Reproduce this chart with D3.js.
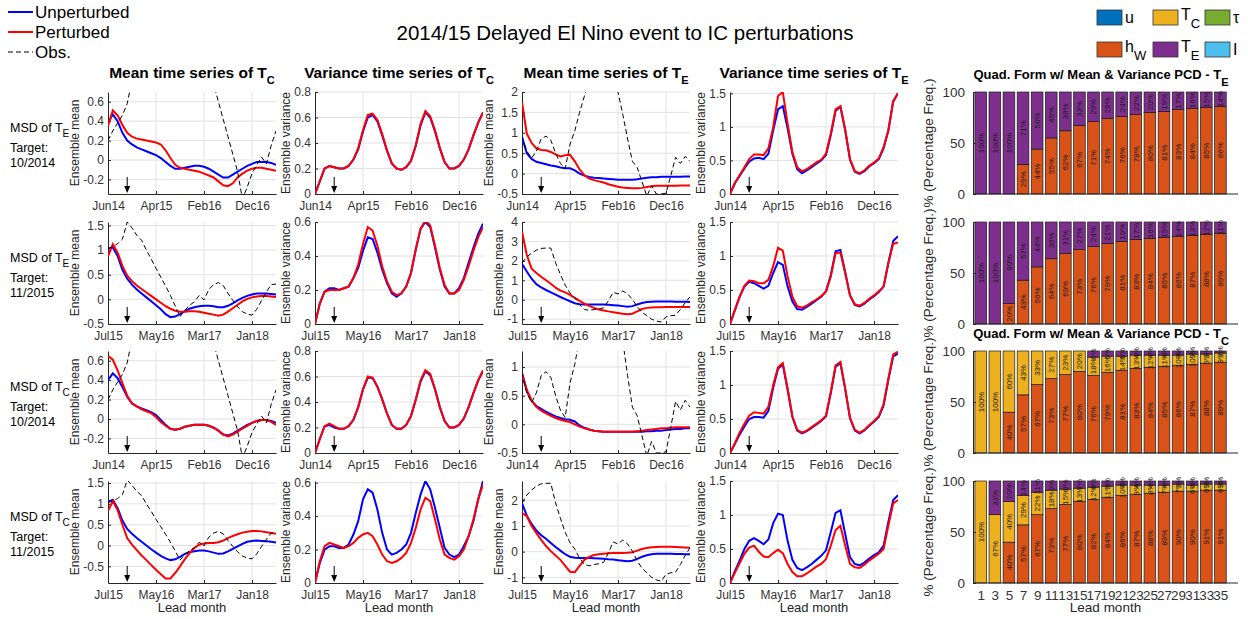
<!DOCTYPE html>
<html><head><meta charset="utf-8">
<script src="https://cdn.jsdelivr.net/npm/d3@7"></script>
<style>
body{margin:0;background:#fff}
svg{display:block}
text{font-family:"Liberation Sans",Arial,Helvetica,sans-serif}
</style>
</head><body>
<svg id="chart" width="1248" height="619"></svg>
<script>
// ---------------- DATA ----------------
const months = d3.range(36); // lead month index 0..35
const tickMonths = [0, 10, 20, 30];
const ticksJun14 = ["Jun14", "Apr15", "Feb16", "Dec16"];
const ticksJul15 = ["Jul15", "May16", "Mar17", "Jan18"];
const arrowMonth = 4;

// Observations
const obsTC_Jun14 = [0.2,0.3,0.38,0.46,0.58,0.82,1.0,1.1,1.0,0.9,0.8,1.0,1.3,1.6,1.9,2.2,2.5,2.6,2.4,2.0,1.5,1.1,0.78,0.6,0.42,0.24,0.06,-0.12,-0.4,-0.28,-0.14,-0.05,0.03,-0.04,0.15,0.3];
const obsTE_Jun14 = [0.9,0.55,0.38,0.55,0.85,0.92,0.82,0.5,0.25,0.12,0.72,1.05,1.5,1.9,2.3,2.6,2.8,2.9,2.7,2.4,2.0,1.45,0.85,0.3,0.15,-0.2,-0.55,-0.3,-0.5,-0.5,-0.48,-0.05,0.4,0.25,0.42,0.3];
const obsTC_Jul15 = [1.03,1.07,1.13,1.22,1.57,1.45,1.3,1.2,1.0,0.82,0.63,0.45,0.27,0.08,-0.13,-0.35,-0.22,-0.12,-0.05,0.08,-0.01,0.2,0.3,0.34,0.28,0.12,-0.02,-0.15,-0.25,-0.3,-0.32,-0.2,-0.02,0.15,0.3,0.31];
const obsTE_Jul15 = [1.9,2.2,2.4,2.55,2.64,2.66,2.66,1.9,1.3,0.75,0.35,0.1,-0.25,-0.5,-0.55,-0.5,-0.47,-0.42,-0.05,0.38,0.3,0.45,0.3,0.02,-0.35,-0.65,-0.82,-1.0,-1.1,-1.15,-0.88,-0.82,-0.8,-0.5,-0.15,0.15];

// Row 1: MSD of T_E, target 10/2014
const r1MeanTC_unp = [0.38,0.47,0.4,0.28,0.2,0.16,0.13,0.11,0.09,0.07,0.05,0.02,-0.02,-0.06,-0.09,-0.09,-0.08,-0.07,-0.06,-0.06,-0.07,-0.09,-0.12,-0.15,-0.18,-0.18,-0.15,-0.12,-0.09,-0.06,-0.04,-0.02,-0.02,-0.02,-0.03,-0.05];
const r1MeanTC_per = [0.35,0.51,0.46,0.36,0.28,0.24,0.22,0.21,0.2,0.19,0.18,0.16,0.1,0.02,-0.05,-0.08,-0.09,-0.1,-0.11,-0.12,-0.14,-0.16,-0.18,-0.22,-0.26,-0.27,-0.24,-0.18,-0.14,-0.11,-0.09,-0.08,-0.08,-0.09,-0.1,-0.11];
const r1VarTC_unp = [0,0.1,0.2,0.22,0.21,0.2,0.2,0.22,0.27,0.35,0.49,0.6,0.62,0.57,0.46,0.34,0.24,0.2,0.19,0.21,0.26,0.38,0.54,0.64,0.6,0.49,0.36,0.25,0.2,0.2,0.22,0.27,0.35,0.46,0.56,0.64];
const r1VarTC_per = [0,0.1,0.2,0.22,0.21,0.2,0.2,0.22,0.27,0.36,0.5,0.62,0.63,0.58,0.47,0.34,0.24,0.2,0.19,0.21,0.26,0.38,0.55,0.65,0.61,0.5,0.36,0.25,0.2,0.2,0.22,0.27,0.35,0.46,0.56,0.64];
const r1MeanTE_unp = [0.9,0.5,0.36,0.29,0.26,0.23,0.2,0.18,0.15,0.13,0.13,0.08,0.0,-0.05,-0.08,-0.1,-0.11,-0.12,-0.13,-0.14,-0.15,-0.15,-0.15,-0.15,-0.14,-0.12,-0.1,-0.09,-0.09,-0.08,-0.08,-0.08,-0.08,-0.08,-0.07,-0.07];
const r1MeanTE_per = [1.75,0.98,0.75,0.62,0.58,0.57,0.53,0.47,0.42,0.45,0.46,0.3,0.1,-0.04,-0.12,-0.16,-0.19,-0.22,-0.26,-0.29,-0.32,-0.34,-0.35,-0.36,-0.36,-0.35,-0.33,-0.31,-0.3,-0.3,-0.3,-0.3,-0.3,-0.29,-0.29,-0.29];
const r1VarTE_unp = [0,0.16,0.27,0.38,0.48,0.53,0.54,0.52,0.6,0.95,1.26,1.31,0.98,0.6,0.37,0.31,0.35,0.4,0.45,0.5,0.58,0.88,1.24,1.3,0.95,0.51,0.33,0.3,0.34,0.41,0.46,0.52,0.68,0.95,1.38,1.5];
const r1VarTE_per = [0,0.16,0.28,0.4,0.52,0.59,0.59,0.58,0.68,1.0,1.46,1.52,1.05,0.62,0.4,0.34,0.37,0.42,0.47,0.51,0.6,0.9,1.26,1.31,0.96,0.52,0.34,0.31,0.35,0.42,0.47,0.53,0.7,0.95,1.38,1.5];

// Row 2: MSD of T_E, target 11/2015
const r2MeanTC_unp = [1.03,1.05,0.88,0.6,0.42,0.3,0.2,0.12,0.04,-0.04,-0.12,-0.2,-0.3,-0.36,-0.35,-0.3,-0.24,-0.19,-0.16,-0.14,-0.13,-0.13,-0.14,-0.16,-0.16,-0.13,-0.08,-0.02,0.03,0.07,0.1,0.12,0.12,0.12,0.11,0.1];
const r2MeanTC_per = [0.87,1.12,0.95,0.68,0.48,0.37,0.28,0.21,0.14,0.07,0.0,-0.07,-0.14,-0.19,-0.23,-0.25,-0.25,-0.24,-0.24,-0.25,-0.27,-0.29,-0.31,-0.33,-0.31,-0.25,-0.18,-0.11,-0.04,0.01,0.04,0.06,0.07,0.07,0.06,0.05];
const r2VarTC_unp = [0,0.12,0.19,0.21,0.21,0.2,0.21,0.22,0.27,0.33,0.43,0.51,0.5,0.42,0.32,0.24,0.18,0.16,0.18,0.22,0.3,0.44,0.56,0.6,0.57,0.45,0.32,0.22,0.18,0.18,0.21,0.27,0.36,0.45,0.53,0.59];
const r2VarTC_per = [0,0.12,0.19,0.2,0.2,0.2,0.21,0.22,0.27,0.35,0.47,0.57,0.55,0.46,0.34,0.25,0.19,0.17,0.18,0.22,0.3,0.44,0.56,0.61,0.58,0.46,0.33,0.23,0.18,0.18,0.2,0.26,0.34,0.43,0.51,0.57];
const r2MeanTE_unp = [1.85,1.45,1.08,0.8,0.63,0.5,0.38,0.26,0.14,0.03,-0.08,-0.18,-0.24,-0.25,-0.24,-0.24,-0.24,-0.25,-0.26,-0.28,-0.3,-0.33,-0.36,-0.33,-0.25,-0.17,-0.12,-0.1,-0.09,-0.09,-0.09,-0.09,-0.1,-0.1,-0.11,-0.12];
const r2MeanTE_per = [3.5,2.3,1.6,1.38,1.18,1.0,0.82,0.62,0.47,0.38,0.25,0.1,-0.06,-0.2,-0.32,-0.42,-0.5,-0.55,-0.6,-0.64,-0.68,-0.72,-0.75,-0.72,-0.6,-0.48,-0.42,-0.4,-0.39,-0.39,-0.38,-0.38,-0.38,-0.38,-0.38,-0.38];
const r2VarTE_unp = [0,0.2,0.4,0.55,0.62,0.6,0.56,0.52,0.56,0.75,0.91,0.87,0.55,0.33,0.22,0.21,0.25,0.3,0.35,0.4,0.48,0.72,1.07,1.09,0.76,0.42,0.28,0.26,0.3,0.36,0.41,0.47,0.55,0.9,1.22,1.29];
const r2VarTE_per = [0,0.2,0.4,0.56,0.64,0.63,0.6,0.6,0.65,0.85,1.12,1.08,0.7,0.4,0.26,0.24,0.27,0.32,0.36,0.41,0.48,0.7,1.04,1.05,0.75,0.42,0.29,0.27,0.31,0.37,0.42,0.48,0.55,0.9,1.18,1.2];

// Row 3: MSD of T_C, target 10/2014
const r3MeanTC_unp = [0.4,0.47,0.42,0.33,0.23,0.16,0.13,0.11,0.09,0.07,0.04,-0.01,-0.06,-0.1,-0.11,-0.1,-0.08,-0.07,-0.06,-0.06,-0.06,-0.07,-0.09,-0.12,-0.16,-0.17,-0.15,-0.12,-0.09,-0.06,-0.04,-0.02,-0.01,-0.01,-0.02,-0.04];
const r3MeanTC_per = [0.65,0.61,0.5,0.37,0.24,0.16,0.13,0.1,0.08,0.06,0.02,-0.03,-0.07,-0.1,-0.11,-0.1,-0.08,-0.07,-0.06,-0.06,-0.06,-0.07,-0.09,-0.12,-0.16,-0.18,-0.16,-0.13,-0.1,-0.07,-0.04,-0.02,-0.01,-0.01,-0.03,-0.06];
const r3VarTC_unp = [0,0.11,0.21,0.22,0.2,0.19,0.19,0.21,0.26,0.36,0.5,0.59,0.59,0.52,0.42,0.31,0.22,0.19,0.19,0.22,0.29,0.42,0.56,0.64,0.61,0.5,0.36,0.25,0.2,0.2,0.22,0.27,0.36,0.47,0.57,0.64];
const r3VarTC_per = [0,0.11,0.21,0.23,0.21,0.19,0.19,0.21,0.26,0.36,0.5,0.6,0.59,0.52,0.42,0.31,0.22,0.19,0.19,0.22,0.29,0.42,0.57,0.65,0.62,0.5,0.36,0.25,0.2,0.2,0.22,0.27,0.36,0.47,0.57,0.65];
const r3MeanTE_unp = [0.89,0.58,0.41,0.32,0.27,0.22,0.18,0.14,0.11,0.09,0.08,0.05,-0.02,-0.06,-0.09,-0.11,-0.12,-0.13,-0.13,-0.13,-0.13,-0.13,-0.13,-0.13,-0.13,-0.13,-0.12,-0.12,-0.11,-0.11,-0.1,-0.09,-0.08,-0.08,-0.07,-0.07];
const r3MeanTE_per = [0.89,0.6,0.42,0.3,0.24,0.19,0.15,0.11,0.08,0.06,0.04,0.0,-0.04,-0.07,-0.09,-0.11,-0.12,-0.13,-0.13,-0.13,-0.13,-0.13,-0.13,-0.13,-0.12,-0.11,-0.1,-0.09,-0.08,-0.07,-0.07,-0.06,-0.05,-0.05,-0.05,-0.05];
const r3VarTE_unp = [0,0.13,0.27,0.39,0.5,0.53,0.53,0.52,0.62,0.96,1.24,1.3,0.93,0.53,0.33,0.29,0.32,0.37,0.42,0.47,0.54,0.88,1.27,1.32,0.94,0.51,0.33,0.29,0.33,0.4,0.46,0.53,0.7,1.08,1.42,1.46];
const r3VarTE_per = [0,0.14,0.3,0.43,0.55,0.6,0.59,0.58,0.68,1.0,1.26,1.32,0.95,0.54,0.34,0.3,0.33,0.38,0.43,0.48,0.55,0.9,1.29,1.34,0.95,0.52,0.34,0.3,0.34,0.41,0.47,0.54,0.72,1.1,1.45,1.49];

// Row 4: MSD of T_C, target 11/2015
const r4MeanTC_unp = [1.05,1.1,0.9,0.6,0.4,0.28,0.18,0.09,0.0,-0.09,-0.17,-0.25,-0.31,-0.35,-0.33,-0.27,-0.2,-0.16,-0.14,-0.12,-0.12,-0.14,-0.17,-0.2,-0.19,-0.14,-0.08,-0.02,0.04,0.09,0.11,0.12,0.11,0.1,0.09,0.07];
const r4MeanTC_per = [0.83,1.07,0.85,0.5,0.18,0.02,-0.11,-0.24,-0.35,-0.47,-0.58,-0.69,-0.79,-0.79,-0.66,-0.5,-0.33,-0.18,-0.06,0.02,0.05,0.06,0.06,0.08,0.12,0.18,0.23,0.27,0.31,0.33,0.35,0.35,0.34,0.32,0.3,0.28];
const r4VarTC_unp = [0,0.12,0.2,0.22,0.22,0.21,0.21,0.23,0.29,0.37,0.5,0.56,0.54,0.44,0.3,0.2,0.17,0.18,0.2,0.23,0.3,0.42,0.53,0.61,0.56,0.45,0.33,0.21,0.17,0.155,0.17,0.22,0.28,0.37,0.5,0.61];
const r4VarTC_per = [0,0.13,0.22,0.24,0.23,0.22,0.21,0.22,0.24,0.27,0.29,0.3,0.28,0.23,0.17,0.13,0.12,0.13,0.15,0.18,0.24,0.33,0.44,0.51,0.49,0.38,0.26,0.17,0.15,0.14,0.16,0.2,0.28,0.38,0.5,0.59];
const r4MeanTE_unp = [1.89,1.4,1.08,0.82,0.64,0.5,0.34,0.18,0.04,-0.1,-0.2,-0.24,-0.25,-0.25,-0.25,-0.26,-0.27,-0.28,-0.3,-0.31,-0.33,-0.35,-0.37,-0.35,-0.28,-0.2,-0.14,-0.1,-0.08,-0.08,-0.08,-0.08,-0.09,-0.09,-0.1,-0.1];
const r4MeanTE_per = [1.5,1.38,1.0,0.72,0.46,0.22,0.02,-0.15,-0.32,-0.55,-0.78,-0.8,-0.55,-0.32,-0.2,-0.13,-0.1,-0.08,-0.06,-0.05,-0.05,-0.05,-0.04,-0.02,0.04,0.1,0.14,0.17,0.18,0.19,0.19,0.19,0.18,0.17,0.16,0.15];
const r4VarTE_unp = [0,0.17,0.33,0.5,0.62,0.66,0.62,0.57,0.64,0.88,1.02,1.0,0.62,0.34,0.22,0.19,0.23,0.28,0.34,0.4,0.48,0.75,1.03,1.07,0.72,0.38,0.28,0.26,0.3,0.36,0.41,0.45,0.55,0.9,1.22,1.29];
const r4VarTE_per = [0,0.15,0.29,0.43,0.52,0.55,0.46,0.39,0.38,0.44,0.49,0.44,0.28,0.16,0.1,0.1,0.14,0.19,0.24,0.28,0.35,0.55,0.78,0.84,0.55,0.28,0.23,0.22,0.27,0.33,0.38,0.43,0.5,0.85,1.17,1.22];

// Bar charts (percentage frequency) by lead month
const leadMonths = [1,3,5,7,9,11,13,15,17,19,21,23,25,27,29,31,33,35];
const qf1_hW = [0,0,0,29,44,55,62,67,71,74,76,78,80,81,83,84,85,86];
const qf1_TE = [100,100,100,71,56,45,38,33,29,26,24,22,20,19,17,16,15,14];
const qf2_hW = [0,0,20,43,56,64,69,73,76,79,81,83,84,85,86,87,88,89];
const qf2_TE = [100,100,80,57,44,36,31,27,24,21,19,17,16,15,14,13,12,11];
const qf3_hW = [0,0,40,57,67,73,77,80,76,79,81,83,84,85,86,87,88,89];
const qf3_TC = [100,100,60,43,33,27,23,20,18,16,14,13,12,11,10,10,9,9];
const qf3_TE = [0,0,0,0,0,0,0,0,6,5,5,4,4,4,4,3,3,2];
const qf4_hW = [0,0,40,57,67,73,77,80,82,84,86,87,88,89,90,90,91,91];
const qf4_TC = [100,67,40,29,22,18,15,13,12,11,10,9,8,7,7,6,6,6];
const qf4_TE = [0,33,20,14,11,9,8,7,6,5,4,4,4,4,3,4,3,3];

const legendVars = [
  {base:"u", sub:"", color:"#0072BD"},
  {base:"T", sub:"C", color:"#EDB120"},
  {base:"τ", sub:"", color:"#77AC30"},
  {base:"h", sub:"W", color:"#D95319"},
  {base:"T", sub:"E", color:"#7E2F8E"},
  {base:"I", sub:"", color:"#4DBEEE"}
];

// ---------------- LAYOUT ----------------
const svg = d3.select("#chart");
const BLUE = "#0000FF", RED = "#FF0000";
const AX = "#262626", TICK = "#333333", GRID = "#e2e2e2";
const colX = [108, 315, 522, 730];
const panelW = 168;
const rowY = [92, 222, 351, 481];
const panelH = 102;
let clipN = 0;

function subText(g, x, y, base, sub, o) {
  const t = g.append("text").attr("x", x).attr("y", y)
    .attr("text-anchor", o.anchor || "start")
    .style("font-size", o.size + "px").style("font-weight", o.weight || "normal")
    .attr("fill", o.fill || "#000");
  t.append("tspan").text(base);
  if (sub) t.append("tspan").attr("dy", o.dy).style("font-size", o.subSize + "px").text(sub);
  return t;
}

// Title
svg.append("text").attr("x", 625).attr("y", 40).attr("text-anchor", "middle")
  .style("font-size", "20.5px").attr("fill", "#000")
  .text("2014/15 Delayed El Nino event to IC perturbations");

// Top-left legend
const lg = svg.append("g");
[{t:"Unperturbed", c:BLUE, w:2, d:null},{t:"Perturbed", c:RED, w:2, d:null},{t:"Obs.", c:"#000", w:1, d:"5,3"}]
.forEach((e, i) => {
  const yy = 12 + i * 20;
  lg.append("line").attr("x1", 8).attr("x2", 33).attr("y1", yy).attr("y2", yy)
    .attr("stroke", e.c).attr("stroke-width", e.w).attr("stroke-dasharray", e.d);
  lg.append("text").attr("x", 35).attr("y", yy + 6).style("font-size", "17px").attr("fill", "#000").text(e.t);
});

// Top-right legend
const lgr = svg.append("g");
const lgBoxX = [1097, 1153, 1205];
const lgBoxY = [10, 42];
legendVars.forEach((v, i) => {
  const col = i % 3, row = Math.floor(i / 3);
  const bx = lgBoxX[col], by = lgBoxY[row];
  lgr.append("rect").attr("x", bx).attr("y", by).attr("width", 25).attr("height", 15)
    .attr("fill", v.color).attr("stroke", "#333").attr("stroke-width", 0.8);
  const baseY = v.sub ? by + 10 : by + 13;
  subText(lgr, bx + 28, baseY, v.base, v.sub, {size: 16, subSize: 13, dy: 8});
});

// Column titles
const colTitles = [["Mean time series of T","C"],["Variance time series of T","C"],["Mean time series of T","E"],["Variance time series of T","E"]];
colTitles.forEach((t, c) => {
  subText(svg, colX[c] + panelW / 2, 78, t[0], t[1], {size: 15.5, subSize: 11, dy: 6, anchor: "middle", weight: "bold"});
});

// Line panel
function linePanel(px, py, cfg) {
  const x = d3.scaleLinear().domain([0, 35]).range([px, px + panelW]);
  const y = d3.scaleLinear().domain(cfg.yDomain).range([py + panelH, py]);
  const g = svg.append("g");
  g.selectAll(null).data(tickMonths.slice(1)).join("line")
    .attr("x1", d => x(d)).attr("x2", d => x(d)).attr("y1", py).attr("y2", py + panelH)
    .attr("stroke", GRID).attr("stroke-width", 1);
  g.selectAll(null).data(cfg.yTicks.filter(t => y(t) < py + panelH - 1)).join("line")
    .attr("x1", px).attr("x2", px + panelW).attr("y1", d => y(d)).attr("y2", d => y(d))
    .attr("stroke", GRID).attr("stroke-width", 1);
  const ay = g.append("g").attr("transform", `translate(${px},0)`)
    .call(d3.axisLeft(y).tickValues(cfg.yTicks).tickFormat(d => String(d)).tickSizeInner(-3).tickSizeOuter(0).tickPadding(4));
  const ax = g.append("g").attr("transform", `translate(0,${py + panelH})`)
    .call(d3.axisBottom(x).tickValues(tickMonths).tickFormat((d, i) => cfg.xLabels[i]).tickSizeInner(-3).tickSizeOuter(0).tickPadding(7));
  [ay, ax].forEach(a => {
    a.attr("font-family", null).attr("font-size", null);
    a.select(".domain").attr("stroke", AX);
    a.selectAll(".tick line").attr("stroke", AX);
    a.selectAll("text").style("font-size", "12px").attr("fill", TICK);
  });
  const maxW = d3.max(ay.selectAll("text").nodes(), n => n.getComputedTextLength());
  const id = "clip" + (clipN++);
  svg.append("clipPath").attr("id", id).append("rect")
    .attr("x", px).attr("y", py).attr("width", panelW).attr("height", panelH);
  const line = d3.line().x((d, i) => x(months[i])).y(d => y(d));
  cfg.series.forEach(s => {
    g.append("path").datum(s.data).attr("d", line).attr("fill", "none")
      .attr("stroke", s.color).attr("stroke-width", s.w)
      .attr("stroke-dasharray", s.dash || null).attr("clip-path", `url(#${id})`);
  });
  // arrow marking target month
  const axp = x(arrowMonth), yb = py + panelH;
  g.append("line").attr("x1", axp).attr("x2", axp).attr("y1", yb - 17).attr("y2", yb - 6)
    .attr("stroke", "#000").attr("stroke-width", 1);
  g.append("path").attr("d", `M${axp - 3},${yb - 8} L${axp},${yb - 1} L${axp + 3},${yb - 8} Z`).attr("fill", "#000");
  // y label
  const lx = px - 4 - maxW - 8.5, lyc = py + panelH / 2;
  g.append("text").attr("transform", `translate(${lx},${lyc}) rotate(-90)`)
    .attr("text-anchor", "middle").attr("dy", "0.35em").style("font-size", "12px").attr("fill", AX)
    .text(cfg.ylabel);
  if (cfg.lead) {
    g.append("text").attr("x", px + panelW / 2).attr("y", 612).attr("text-anchor", "middle")
      .style("font-size", "13px").attr("fill", AX).text("Lead month");
  }
}

const rows = [
  {msd:"E", target:"10/2014", xl:ticksJun14, obsTC:obsTC_Jun14, obsTE:obsTE_Jun14,
   data:[[r1MeanTC_unp,r1MeanTC_per],[r1VarTC_unp,r1VarTC_per],[r1MeanTE_unp,r1MeanTE_per],[r1VarTE_unp,r1VarTE_per]],
   dom:[[-0.35,0.7],[0,0.8],[-0.5,2],[0,1.52]],
   ticks:[[-0.2,0,0.2,0.4,0.6],[0,0.2,0.4,0.6,0.8],[-0.5,0,0.5,1,1.5,2],[0,0.5,1,1.5]]},
  {msd:"E", target:"11/2015", xl:ticksJul15, obsTC:obsTC_Jul15, obsTE:obsTE_Jul15,
   data:[[r2MeanTC_unp,r2MeanTC_per],[r2VarTC_unp,r2VarTC_per],[r2MeanTE_unp,r2MeanTE_per],[r2VarTE_unp,r2VarTE_per]],
   dom:[[-0.5,1.57],[0,0.6],[-1.25,4],[0,1.5]],
   ticks:[[-0.5,0,0.5,1,1.5],[0,0.2,0.4,0.6],[-1,0,1,2,3,4],[0,0.5,1,1.5]]},
  {msd:"C", target:"10/2014", xl:ticksJun14, obsTC:obsTC_Jun14, obsTE:obsTE_Jun14,
   data:[[r3MeanTC_unp,r3MeanTC_per],[r3VarTC_unp,r3VarTC_per],[r3MeanTE_unp,r3MeanTE_per],[r3VarTE_unp,r3VarTE_per]],
   dom:[[-0.35,0.7],[0,0.8],[-0.5,1.28],[0,1.5]],
   ticks:[[-0.2,0,0.2,0.4,0.6],[0,0.2,0.4,0.6,0.8],[-0.5,0,0.5,1],[0,0.5,1,1.5]]},
  {msd:"C", target:"11/2015", xl:ticksJul15, obsTC:obsTC_Jul15, obsTE:obsTE_Jul15,
   data:[[r4MeanTC_unp,r4MeanTC_per],[r4VarTC_unp,r4VarTC_per],[r4MeanTE_unp,r4MeanTE_per],[r4VarTE_unp,r4VarTE_per]],
   dom:[[-0.9,1.55],[0,0.61],[-1.22,2.75],[0,1.5]],
   ticks:[[-0.5,0,0.5,1,1.5],[0,0.2,0.4,0.6],[-1,0,1,2],[0,0.5,1,1.5]]}
];

rows.forEach((r, ri) => {
  const py = rowY[ri];
  subText(svg, 10, py + 40, "MSD of T", r.msd, {size: 12.5, subSize: 10, dy: 5, fill: "#000"});
  svg.append("text").attr("x", 10).attr("y", py + 60).style("font-size", "12.5px").attr("fill", "#000").text("Target:");
  svg.append("text").attr("x", 10).attr("y", py + 75).style("font-size", "12.5px").attr("fill", "#000").text(r.target);
  for (let c = 0; c < 4; c++) {
    const series = [
      {data: r.data[c][0], color: BLUE, w: 2},
      {data: r.data[c][1], color: RED, w: 2}
    ];
    if (c === 0) series.push({data: r.obsTC, color: "#000", w: 1, dash: "5,3"});
    if (c === 2) series.push({data: r.obsTE, color: "#000", w: 1, dash: "5,3"});
    linePanel(colX[c], py, {
      yDomain: r.dom[c], yTicks: r.ticks[c], xLabels: r.xl, series,
      ylabel: (c % 2 === 0) ? "Ensemble mean" : "Ensemble variance",
      lead: ri === 3
    });
  }
});

// Bar panels
const barX0 = 973, barX1 = 1238;
const barRows = [
  {segs:[{v:qf1_hW, c:"#D95319"},{v:qf1_TE, c:"#7E2F8E"}], title:["Quad. Form w/ Mean & Variance PCD - T","E"]},
  {segs:[{v:qf2_hW, c:"#D95319"},{v:qf2_TE, c:"#7E2F8E"}], title:null},
  {segs:[{v:qf3_hW, c:"#D95319"},{v:qf3_TC, c:"#EDB120"},{v:qf3_TE, c:"#7E2F8E"}], title:["Quad. Form w/ Mean & Variance PCD - T","C"]},
  {segs:[{v:qf4_hW, c:"#D95319"},{v:qf4_TC, c:"#EDB120"},{v:qf4_TE, c:"#7E2F8E"}], title:null}
];
barRows.forEach((br, ri) => {
  const py = rowY[ri];
  const x = d3.scaleLinear().domain([-0.1, 37.5]).range([barX0, barX1]);
  const y = d3.scaleLinear().domain([0, 100]).range([py + panelH, py]);
  const bw = x(1.66) - x(0);
  const g = svg.append("g");
  leadMonths.forEach((m, i) => {
    let base = 0;
    br.segs.forEach(s => {
      const v = s.v[i];
      if (v > 0) {
        g.append("rect").attr("x", x(m) - bw / 2).attr("width", bw)
          .attr("y", y(base + v)).attr("height", y(base) - y(base + v))
          .attr("fill", s.c).attr("stroke", "#1a1a1a").attr("stroke-width", 0.7);
      }
      base += v;
    });
  });
  leadMonths.forEach((m, i) => {
    let base = 0;
    br.segs.forEach(s => {
      const v = s.v[i];
      if (v > 0) {
        const yc = y(base + v / 2);
        g.append("text").attr("transform", `translate(${x(m)},${yc}) rotate(-90)`)
          .attr("text-anchor", "middle").attr("dy", "0.35em")
          .style("font-size", "8px").attr("fill", "#1a1a1a").text(v + "%");
      }
      base += v;
    });
  });
  const ay = g.append("g").attr("transform", `translate(${barX0},0)`)
    .call(d3.axisLeft(y).tickValues([0, 50, 100]).tickSizeInner(-3).tickSizeOuter(0).tickPadding(8));
  const ax = g.append("g").attr("transform", `translate(0,${py + panelH})`)
    .call(d3.axisBottom(x).tickValues(ri === 3 ? leadMonths : []).tickSize(0).tickPadding(7));
  ax.select(".domain").attr("d", `M${barX0},0H${barX1}`);
  [ay, ax].forEach(a => {
    a.attr("font-family", null).attr("font-size", null);
    a.select(".domain").attr("stroke", AX);
    a.selectAll(".tick line").attr("stroke", AX);
    a.selectAll("text").style("font-size", "13.5px").attr("fill", TICK);
  });
  g.append("text").attr("transform", `translate(928,${py + panelH / 2}) rotate(-90)`)
    .attr("text-anchor", "middle").attr("dy", "0.35em").style("font-size", "13.5px").attr("fill", AX)
    .text("% (Percentage Freq.)");
  if (br.title) {
    subText(g, 1101, py - 13, br.title[0], br.title[1], {size: 13, subSize: 11, dy: 7, anchor: "middle", weight: "bold"});
  }
  if (ri === 3) {
    g.append("text").attr("x", (barX0 + barX1) / 2).attr("y", 612).attr("text-anchor", "middle")
      .style("font-size", "13.5px").attr("fill", AX).text("Lead month");
  }
});
</script>
</body></html>
